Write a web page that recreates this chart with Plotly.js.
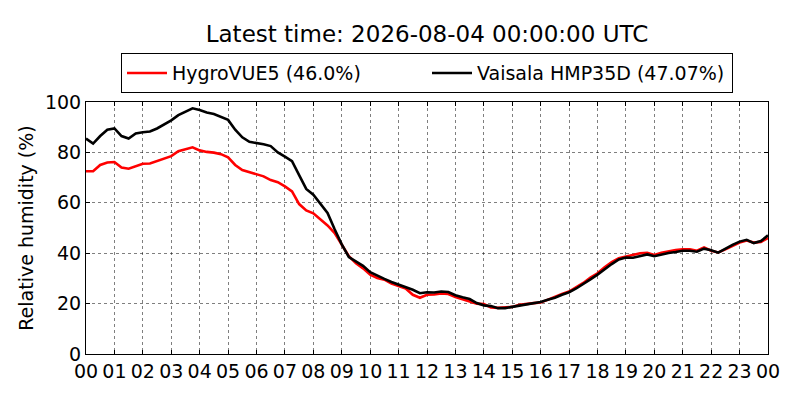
<!DOCTYPE html>
<html>
<head>
<meta charset="utf-8">
<script src="https://cdn.plot.ly/plotly-3.0.1.min.js"></script>
<style>
  html, body { margin: 0; padding: 0; background: #fff; }
  #chart { width: 800px; height: 400px; }
</style>
</head>
<body>
<div id="chart"></div>
<script>
// hours since 00 UTC, sampled every 15 minutes
const hours = [
  0, 0.25, 0.5, 0.75, 1, 1.25, 1.5, 1.75, 2, 2.25, 2.5, 2.75,
  3, 3.25, 3.5, 3.75, 4, 4.25, 4.5, 4.75, 5, 5.25, 5.5, 5.75,
  6, 6.25, 6.5, 6.75, 7, 7.25, 7.5, 7.75, 8, 8.25, 8.5, 8.75,
  9, 9.25, 9.5, 9.75, 10, 10.25, 10.5, 10.75, 11, 11.25, 11.5, 11.75,
  12, 12.25, 12.5, 12.75, 13, 13.25, 13.5, 13.75, 14, 14.25, 14.5, 14.75,
  15, 15.25, 15.5, 15.75, 16, 16.25, 16.5, 16.75, 17, 17.25, 17.5, 17.75,
  18, 18.25, 18.5, 18.75, 19, 19.25, 19.5, 19.75, 20, 20.25, 20.5, 20.75,
  21, 21.25, 21.5, 21.75, 22, 22.25, 22.5, 22.75, 23, 23.25, 23.5, 23.75, 24
];

const hygroVue5 = [
  72.5, 72.5, 75, 76, 76.2, 74, 73.5, 74.5, 75.5, 75.6, 76.5, 77.5,
  78.5, 80.5, 81.2, 82, 80.8, 80.2, 79.9, 79.3, 78, 75, 73, 72.2,
  71.2, 70.5, 69, 68.2, 66.5, 64.5, 59.5, 57, 55.8, 53.5, 51, 48,
  43.5, 38.8, 36, 34, 31.5, 30.2, 29.5, 28, 27, 26, 23.5, 22.3,
  23.5, 23.6, 24, 23.8, 22.6, 21.8, 20.8, 20, 19.8, 18.5, 18.3, 18.6,
  18.7, 19.5, 20, 20.2, 20.4, 21.6, 22.5, 23.8, 24.8, 26.5, 28.2, 30.3,
  32, 34.4, 36.5, 38, 38.6, 39.2, 40, 40.2, 39.3, 40.2, 40.8, 41.3,
  41.5, 41.5, 41, 42.3, 41, 40.3, 41.5, 43, 44.2, 45, 44.2, 44.5, 46.0
];

const hmp35d = [
  85.5, 83.5, 86.5, 89, 89.5, 86.5, 85.5, 87.5, 88, 88.3, 89.5, 91,
  92.7, 94.8, 96.2, 97.5, 96.8, 95.8, 95.2, 94.2, 92.9, 89, 86, 84.2,
  83.8, 83.2, 82.5, 80, 78.3, 76.5, 71, 65.5, 63.2, 59.5, 56, 49.5,
  43.5, 38.5, 36.6, 35, 32.5, 31, 29.8, 28.6, 27.6, 26.8, 25.5, 24.1,
  24.5, 24.4, 24.8, 24.6, 23.3, 22.5, 21.8, 20.2, 19.3, 19, 18.2, 18.2,
  18.8, 19.2, 19.7, 20.1, 20.6, 21.5, 22.3, 23.5, 24.5, 26, 27.7, 29.6,
  31.5, 33.7, 35.7, 37.5, 38.3, 38.2, 39, 39.5, 38.8, 39.5, 40.1, 40.5,
  41, 41, 40.6, 41.8, 41.2, 40.2, 41.8, 43.3, 44.6, 45.3, 44, 44.8, 47.07
];

const tickHours = [0, 1, 2, 3, 4, 5, 6, 7, 8, 9, 10, 11, 12, 13, 14, 15, 16, 17, 18, 19, 20, 21, 22, 23, 24];
const tickLabels = ['00', '01', '02', '03', '04', '05', '06', '07', '08', '09', '10', '11',
  '12', '13', '14', '15', '16', '17', '18', '19', '20', '21', '22', '23', '00'];

const font = 'DejaVu Sans, sans-serif';

const traces = [
  {
    x: hours, y: hygroVue5, type: 'scatter', mode: 'lines',
    name: 'HygroVUE5 (46.0%)',
    line: { color: '#ff0000', width: 2.6 }
  },
  {
    x: hours, y: hmp35d, type: 'scatter', mode: 'lines',
    name: 'Vaisala HMP35D (47.07%)',
    line: { color: '#000000', width: 2.6 }
  }
];

const axisCommon = {
  showline: true, linecolor: '#000', linewidth: 1, mirror: 'ticks',
  ticks: 'inside', ticklen: 4, tickcolor: '#000',
  showgrid: true, gridcolor: '#000', gridwidth: 0.5, griddash: 'dot',
  zeroline: false,
  tickfont: { family: font, size: 19, color: '#000' }
};

const layout = {
  width: 800, height: 400,
  margin: { l: 86, r: 32, t: 102, b: 46 },
  paper_bgcolor: '#fff', plot_bgcolor: '#fff',
  font: { family: font, color: '#000' },
  title: {
    text: 'Latest time: 2026-08-04 00:00:00 UTC',
    font: { family: font, size: 23, color: '#000' },
    x: 0.5, xref: 'paper', xanchor: 'center',
    y: 0.915, yref: 'container', yanchor: 'middle'
  },
  xaxis: Object.assign({}, axisCommon, {
    range: [0, 24],
    tickmode: 'array', tickvals: tickHours, ticktext: tickLabels
  }),
  yaxis: Object.assign({}, axisCommon, {
    range: [0, 100], dtick: 20,
    title: { text: 'Relative humidity (%)', font: { family: font, size: 19, color: '#000' }, standoff: 6 }
  }),
  showlegend: true,
  legend: {
    orientation: 'h',
    x: 0.5, xanchor: 'center', y: 1.194, yanchor: 'top',
    bordercolor: '#000', borderwidth: 1, bgcolor: '#fff',
    font: { family: font, size: 19, color: '#000' },
    entrywidth: 250, itemwidth: 40
  }
};

Plotly.newPlot('chart', traces, layout, { staticPlot: true });
</script>
</body>
</html>
